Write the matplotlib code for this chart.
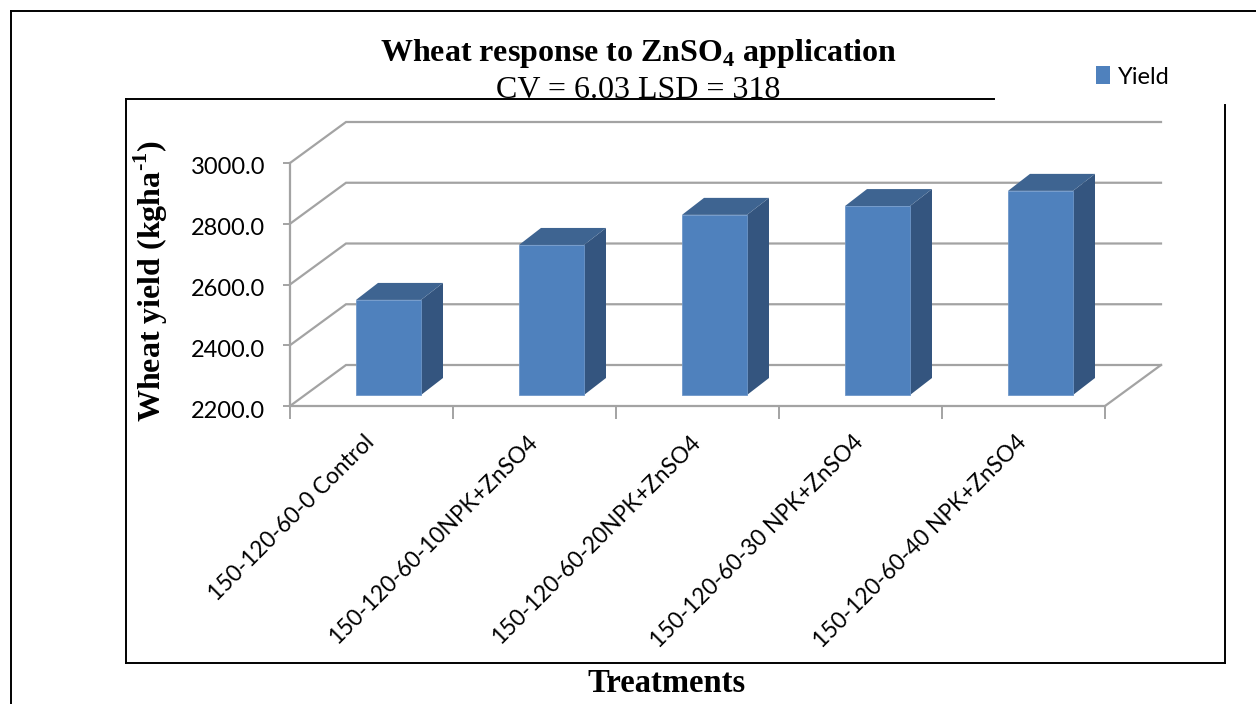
import matplotlib
matplotlib.use("Agg")
import matplotlib.pyplot as plt
from matplotlib.lines import Line2D
from matplotlib.patches import Patch, Polygon
from matplotlib.transforms import ScaledTranslation

W, H = 1256, 704
categories = ["150-120-60-0 Control", "150-120-60-10NPK+ZnSO4", "150-120-60-20NPK+ZnSO4",
              "150-120-60-30 NPK+ZnSO4", "150-120-60-40 NPK+ZnSO4"]
yield_values = [2513, 2694, 2793, 2822, 2872]
y_ticks = [2200, 2400, 2600, 2800, 3000]

plt.rcParams["mathtext.fontset"] = "custom"
plt.rcParams["mathtext.rm"] = "Liberation Serif:bold"
plt.rcParams["mathtext.bf"] = "Liberation Serif:bold"
SERIF = "Liberation Serif"
SANS = "Lato"
GRID = "#A3A3A3"
FRONT, SIDE, TOP = "#4F81BD", "#34557F", "#3E6491"

fig = plt.figure(figsize=(W / 100, H / 100), dpi=100)
L, R, T, B = 290, 1105, 163, 406
ax = fig.add_axes([L / W, 1 - B / H, (R - L) / W, (B - T) / H])
ax.set_xlim(0, len(categories))
ax.set_ylim(y_ticks[0], y_ticks[-1])
ax.patch.set_visible(False)

px_x = len(categories) / (R - L)
px_y = (y_ticks[-1] - y_ticks[0]) / (B - T)
DX, DY = 56 * px_x, 41 * px_y       # depth of the chart floor

for v in y_ticks:
    ax.plot([0, DX, len(categories) + DX], [v, v + DY, v + DY], color=GRID, lw=1.6,
            clip_on=False, zorder=1, solid_joinstyle="miter")
ax.plot([len(categories), len(categories) + DX], [y_ticks[0], y_ticks[0] + DY],
        color=GRID, lw=1.6, clip_on=False, zorder=1)

bar_w = 65 * px_x
bar_dx, bar_dy = 22 * px_x, 17 * px_y
off_x, off_y = 17 * px_x, 11 * px_y
for i, v in enumerate(yield_values):
    x0 = i + 0.5 + off_x - bar_w / 2
    x1 = x0 + bar_w
    y0 = y_ticks[0] + off_y
    y1 = v + off_y
    ax.add_patch(Polygon([(x1, y0), (x1 + bar_dx, y0 + bar_dy), (x1 + bar_dx, y1 + bar_dy), (x1, y1)],
                         fc=SIDE, ec="none", clip_on=False, zorder=3))
    ax.add_patch(Polygon([(x0, y1), (x1, y1), (x1 + bar_dx, y1 + bar_dy), (x0 + bar_dx, y1 + bar_dy)],
                         fc=TOP, ec="none", clip_on=False, zorder=3))
    ax.add_patch(Polygon([(x0, y0), (x1, y0), (x1, y1), (x0, y1)],
                         fc=FRONT, ec="#6E97C9", lw=0.6, clip_on=False, zorder=4))

for s in ("top", "right"):
    ax.spines[s].set_visible(False)
for s in ("left", "bottom"):
    ax.spines[s].set_color(GRID)
    ax.spines[s].set_linewidth(1.6)

ax.set_yticks(y_ticks, [f"{v:.1f}" for v in y_ticks], fontfamily=SANS, fontsize=17, color="black")
ax.tick_params(axis="y", length=5, width=1.4, color=GRID, pad=13)
ax.set_xticks(range(len(categories) + 1), [""] * (len(categories) + 1))
ax.tick_params(axis="x", which="major", length=9, width=1.4, color=GRID)
ax.set_xticks([i + 0.5 for i in range(len(categories))], categories, minor=True,
              rotation=45, ha="right", rotation_mode="anchor", fontfamily=SANS, fontsize=16.3)
ax.tick_params(axis="x", which="minor", length=0, pad=18)

shift_y = ScaledTranslation(0, -3 / 100, fig.dpi_scale_trans)
for lab in ax.get_yticklabels():
    lab.set_transform(lab.get_transform() + shift_y)
shift_x = ScaledTranslation(-8 / 100, 0, fig.dpi_scale_trans)
for lab in ax.get_xticklabels(minor=True):
    lab.set_transform(lab.get_transform() + shift_x)


def px_text(x, y, s, **kw):
    return fig.text(x / W, 1 - y / H, s, ha="center", va="center", family=SERIF, color="black", **kw)


px_text(639, 54, r"Wheat response to ZnSO$_{\mathbf{4}}$ application", fontsize=23, fontweight="bold")
px_text(638, 90, "CV = 6.03 LSD = 318", fontsize=23)
px_text(151, 281, r"Wheat yield (kgha$^{\text{-}\mathbf{1}}$)", fontsize=23, fontweight="bold", rotation=90)
px_text(666, 684, "Treatments", fontsize=23.5, fontweight="bold")

fig.legend(handles=[Patch(fc=FRONT, ec="none", label="Yield")], loc="center left",
           bbox_to_anchor=(1096 / W, 1 - 77 / H), frameon=False, handlelength=0.6, handleheight=0.8,
           handletextpad=0.35, borderpad=0, borderaxespad=0, prop={"family": SANS, "size": 17})

frame = [((11, 704), (11, 11)), ((11, 11), (1256, 11)),
         ((126, 663), (126, 99)), ((126, 99), (994, 99)),
         ((126, 663), (1225, 663)), ((1225, 663), (1225, 105))]
for (xa, ya), (xb, yb) in frame:
    fig.add_artist(Line2D([xa / W, xb / W], [1 - ya / H, 1 - yb / H], color="black", lw=1.4,
                          solid_capstyle="projecting"))

fig.savefig("out.png", dpi=100)
